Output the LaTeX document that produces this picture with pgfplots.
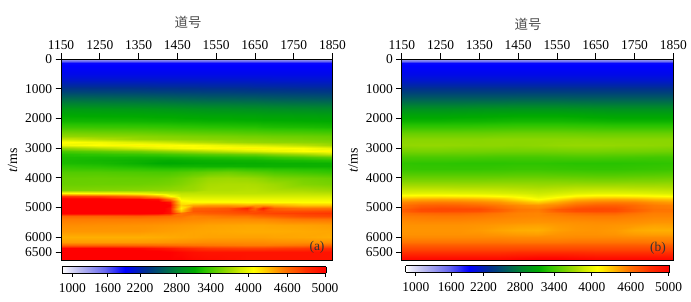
\documentclass[border=0pt]{standalone}
\usepackage{fontspec}
\setmainfont{Liberation Serif}
\newfontfamily\cjk{Noto Sans CJK SC}
\usepackage{pgfplots}
\usepackage{pgfplotstable}
\pgfplotsset{compat=1.18}
\pgfplotsset{
  colormap={seis}{rgb255(830)=(255,255,255) rgb255(1130)=(190,190,240) rgb255(1550)=(105,105,240)
   rgb255(1880)=(0,0,255) rgb255(2250)=(0,50,140) rgb255(2770)=(0,130,50) rgb255(3100)=(0,170,0)
   rgb255(3270)=(40,195,0) rgb255(3770)=(170,220,0) rgb255(4130)=(255,255,0) rgb255(4580)=(255,135,0)
   rgb255(4840)=(255,60,0) rgb255(5000)=(255,0,0) rgb255(5100)=(255,0,0)},
  colormap name=seis,
  point meta min=830, point meta max=5100,
  basepanel/.style={
    view={0}{90},
    scale only axis, width=271.5bp, height=201.7bp,
    xmin=1150,xmax=1850,ymin=0,ymax=6790,y dir=reverse,
    xtick={1150,1250,...,1850},ytick={0,1000,2000,3000,4000,5000,6000,6500},
    xticklabels={1150,1250,1350,1450,1550,1650,1750,1850},
    yticklabels={0,1000,2000,3000,4000,5000,6000,6500},
    xtick pos=upper,xticklabel pos=upper,ytick pos=left,tick align=outside,
    major tick length=5.5bp,
    every tick/.style={black,line width=0.8pt},
    axis line style={line width=0.8pt},
    tick label style={font=\fontsize{13.5}{15}\selectfont},
    axis on top, clip=true,
  },
  basebar/.style={
    view={0}{90},
    scale only axis,width=263.7bp,height=6.6bp,
    xmin=62.3,xmax=326,ymin=0,ymax=1,
    xtick={72.3,107.7,140,176.7,210.7,248.3,287.3,325},
    xticklabels={1000,1600,2200,2800,3400,4000,4600,5000},
    ytick=\empty,xtick pos=lower,tick align=outside,major tick length=3.5bp,
    every tick/.style={black,line width=0.7pt},
    axis line style={line width=0.9pt},
    tick label style={font=\fontsize{13.5}{15}\selectfont},
    xticklabel style={yshift=-3bp},
    axis on top,
  },
}
\newcommand\buildmesh[3]{%
  \gdef#1{}%
  \pgfplotstablegetrowsof{#2}\edef\nrows{\pgfplotsretval}%
  \pgfmathtruncatemacro\lastrow{\nrows-1}%
  \foreach \rr in {0,...,\lastrow}{%
    \pgfplotstablegetelem{\rr}{[index]0}\of{#2}\edef\yy{\pgfplotsretval}%
    \foreach \xx [count=\cc] in #3{%
      \pgfplotstablegetelem{\rr}{[index]\cc}\of{#2}%
      \xdef#1{#1 (\xx,\yy,\pgfplotsretval)}%
    }%
  }%
}
\pgfplotstableread{
t a b c d e f g h i j k l m n o
0 1250 1250 1250 1250 1250 1250 1250 1250 1250 1250 1250 1250 1250 1250 1250
60 1550 1550 1550 1550 1550 1550 1550 1550 1550 1550 1550 1550 1550 1550 1550
150 1860 1860 1860 1860 1860 1860 1860 1860 1860 1860 1860 1860 1860 1860 1860
300 1900 1900 1900 1900 1900 1900 1900 1900 1900 1900 1900 1900 1900 1900 1900
500 1950 1950 1950 1950 1950 1950 1950 1950 1950 1950 1950 1950 1950 1950 1950
700 2050 2050 2050 2050 2050 2050 2050 2050 2050 2050 2050 2050 2040 2040 2040
900 2200 2200 2200 2190 2190 2190 2190 2180 2180 2180 2170 2170 2170 2160 2160
1100 2380 2375 2370 2360 2360 2350 2350 2340 2340 2330 2330 2320 2320 2310 2300
1300 2600 2590 2580 2570 2560 2550 2540 2530 2530 2520 2520 2510 2500 2490 2480
1500 2800 2790 2780 2770 2760 2750 2740 2730 2730 2720 2720 2710 2700 2690 2680
1700 2980 2970 2960 2950 2940 2930 2920 2910 2900 2890 2890 2880 2870 2860 2850
1900 3090 3085 3080 3070 3070 3060 3050 3040 3040 3030 3030 3020 3020 3010 3000
2100 3180 3175 3170 3160 3160 3150 3150 3140 3140 3130 3130 3120 3120 3110 3100
2300 3350 3340 3330 3320 3310 3300 3290 3280 3270 3260 3260 3240 3230 3220 3200
2500 3580 3560 3540 3520 3510 3500 3490 3480 3470 3450 3450 3440 3430 3420 3400
2600 3680 3660 3640 3620 3610 3600 3590 3580 3570 3550 3550 3540 3530 3520 3500
2700 3900 3800 3700 3680 3670 3660 3650 3640 3630 3620 3620 3610 3600 3580 3550
2800 4150 4080 3980 3930 3900 3860 3820 3790 3730 3700 3690 3680 3670 3660 3630
2900 4060 4140 4170 4160 4150 4130 4120 4080 4030 3980 3970 3950 3920 3840 3730
3000 3670 3810 3950 4020 4060 4090 4120 4140 4160 4170 4170 4165 4150 4120 4030
3100 3400 3480 3550 3630 3670 3710 3750 3810 3880 3950 3970 4000 4040 4120 4160
3200 3260 3300 3330 3350 3380 3400 3430 3460 3490 3530 3540 3580 3630 3730 3880
3300 3220 3210 3200 3200 3210 3220 3230 3250 3260 3280 3280 3300 3340 3400 3480
3400 3210 3180 3150 3130 3120 3130 3140 3150 3160 3170 3170 3180 3190 3220 3260
3500 3220 3200 3140 3100 3090 3100 3110 3120 3120 3130 3130 3130 3140 3140 3150
3600 3290 3260 3210 3180 3170 3170 3170 3160 3160 3150 3150 3150 3150 3150 3150
3800 3430 3430 3410 3400 3400 3430 3460 3500 3530 3480 3460 3440 3400 3360 3320
4000 3500 3510 3500 3500 3520 3560 3620 3700 3720 3700 3680 3650 3600 3560 3520
4200 3520 3530 3540 3560 3580 3620 3680 3760 3780 3780 3770 3750 3720 3620 3580
4400 3600 3620 3640 3660 3680 3700 3720 3800 3800 3820 3820 3800 3780 3760 3720
4500 4150 4100 4050 3950 3900 3850 3850 3850 3850 3850 3850 3850 3850 3850 3830
4600 4850 4800 4650 4450 4150 3950 3950 3950 3950 3950 3950 3950 3950 3950 3950
4700 5050 5050 5000 4950 4650 4080 4050 4050 4050 4050 4050 4050 4050 4050 4050
4800 5050 5050 5050 5050 4950 4200 4150 4150 4150 4130 4130 4130 4130 4130 4130
4900 5050 5050 5050 5050 5000 4300 4450 4500 4500 4450 4500 4500 4450 4350 4350
5000 5050 5050 5050 5050 4950 4180 4700 4720 4750 4900 4700 4920 4720 4650 4650
5100 5050 5050 5050 5050 4950 4350 4750 4760 4780 4830 4780 4830 4780 4780 4800
5200 5050 5050 5050 5020 4950 4650 4700 4730 4750 4780 4800 4800 4820 4840 4860
5300 4700 4700 4720 4700 4680 4650 4600 4620 4650 4650 4680 4700 4720 4780 4800
5400 4620 4620 4620 4620 4610 4600 4580 4570 4570 4570 4580 4580 4600 4640 4650
5600 4560 4550 4540 4530 4520 4510 4500 4480 4470 4460 4460 4460 4470 4480 4500
5800 4520 4520 4520 4500 4490 4480 4470 4460 4450 4440 4440 4440 4440 4450 4460
6000 4430 4430 4430 4440 4450 4460 4470 4480 4480 4480 4480 4480 4470 4460 4440
6150 4500 4500 4510 4520 4530 4540 4550 4560 4560 4560 4560 4560 4550 4550 4550
6250 4700 4700 4690 4680 4670 4660 4650 4640 4630 4620 4620 4620 4630 4650 4700
6350 5000 5000 4980 4950 4930 4900 4880 4850 4840 4830 4830 4830 4840 4850 4880
6500 5040 5040 5030 5020 5000 4980 4960 4950 4950 4950 4950 4950 4950 4950 4950
6790 5020 5020 5020 5010 5000 5000 4980 4970 4960 4950 4950 4950 4950 4950 4950
}\tableA
\pgfplotstableread{
t a b c d e f g h i j k l m n o
0 1250 1250 1250 1250 1250 1250 1250 1250 1250 1250 1250 1250 1250 1250 1250
60 1500 1500 1500 1500 1500 1500 1500 1500 1500 1500 1500 1500 1500 1500 1500
150 1860 1860 1860 1860 1860 1860 1860 1860 1860 1860 1860 1860 1860 1860 1860
300 1900 1900 1900 1900 1900 1900 1900 1900 1900 1900 1900 1900 1900 1900 1900
500 1950 1950 1950 1950 1950 1950 1950 1950 1950 1950 1950 1950 1950 1950 1950
700 2040 2040 2040 2040 2040 2040 2040 2040 2040 2040 2040 2040 2040 2040 2040
900 2180 2180 2180 2180 2180 2180 2180 2180 2180 2180 2180 2180 2180 2180 2180
1100 2340 2340 2340 2340 2340 2340 2340 2340 2340 2340 2340 2340 2340 2340 2340
1300 2520 2520 2520 2520 2520 2520 2530 2530 2530 2520 2520 2520 2520 2520 2520
1500 2720 2720 2720 2720 2730 2730 2740 2740 2740 2730 2720 2720 2720 2720 2720
1700 2900 2900 2900 2910 2920 2930 2930 2930 2930 2920 2910 2900 2900 2900 2900
1900 3050 3050 3050 3060 3070 3080 3090 3090 3090 3080 3060 3050 3050 3050 3050
2100 3160 3160 3160 3170 3170 3180 3190 3190 3190 3180 3170 3160 3160 3160 3160
2300 3320 3320 3320 3320 3330 3340 3350 3350 3350 3340 3330 3320 3320 3320 3320
2500 3510 3510 3510 3510 3510 3520 3530 3530 3530 3520 3510 3510 3510 3510 3510
2700 3640 3640 3640 3640 3640 3650 3650 3650 3650 3650 3640 3640 3640 3640 3640
2900 3670 3680 3680 3670 3660 3660 3650 3660 3680 3690 3690 3680 3670 3660 3650
3100 3560 3570 3570 3560 3560 3550 3550 3550 3560 3570 3570 3560 3560 3550 3540
3300 3400 3400 3400 3400 3390 3380 3380 3380 3390 3400 3400 3390 3380 3370 3370
3500 3300 3290 3290 3280 3280 3280 3290 3290 3280 3270 3270 3270 3280 3290 3300
3700 3330 3320 3320 3320 3320 3330 3340 3340 3330 3320 3310 3310 3320 3330 3340
3900 3460 3460 3460 3460 3460 3460 3470 3470 3460 3450 3440 3440 3450 3460 3470
4100 3610 3610 3610 3610 3610 3620 3620 3620 3620 3610 3600 3600 3610 3610 3620
4300 3800 3800 3800 3790 3790 3790 3780 3760 3780 3800 3800 3800 3790 3790 3780
4400 3900 3900 3900 3890 3890 3880 3860 3840 3860 3890 3900 3900 3890 3880 3870
4500 4000 4010 4010 4000 3990 3970 3950 3910 3950 3990 4010 4010 4000 3980 3960
4600 4180 4200 4200 4180 4170 4130 4080 4000 4070 4160 4200 4200 4180 4150 4120
4700 4420 4450 4460 4450 4420 4370 4240 4110 4250 4400 4450 4460 4440 4380 4350
4800 4580 4610 4620 4610 4580 4530 4430 4320 4450 4570 4610 4620 4600 4540 4500
4900 4660 4710 4720 4710 4680 4630 4570 4530 4590 4680 4720 4720 4680 4620 4600
5000 4690 4770 4790 4780 4770 4690 4620 4590 4690 4770 4790 4780 4700 4640 4620
5050 4720 4790 4800 4800 4790 4720 4640 4620 4740 4790 4800 4790 4720 4650 4640
5100 4710 4780 4790 4780 4770 4710 4630 4610 4720 4780 4790 4780 4710 4640 4640
5200 4660 4690 4700 4700 4680 4640 4600 4590 4640 4680 4700 4700 4650 4610 4610
5300 4620 4630 4640 4640 4630 4610 4590 4580 4600 4620 4630 4630 4610 4590 4590
5500 4560 4570 4570 4570 4560 4550 4540 4530 4540 4550 4560 4560 4550 4530 4530
5600 4540 4540 4540 4540 4530 4510 4490 4480 4510 4530 4540 4530 4510 4480 4490
5750 4530 4530 4530 4530 4510 4470 4440 4430 4490 4520 4530 4510 4450 4430 4430
5900 4540 4540 4540 4540 4540 4520 4500 4490 4530 4540 4540 4530 4500 4490 4490
6000 4570 4570 4570 4570 4570 4570 4560 4560 4560 4570 4570 4570 4560 4560 4560
6150 4650 4650 4650 4650 4650 4650 4640 4640 4640 4650 4650 4650 4650 4640 4640
6250 4730 4730 4730 4730 4730 4730 4730 4730 4730 4730 4730 4730 4730 4730 4730
6350 4790 4790 4790 4790 4790 4790 4790 4790 4790 4790 4790 4790 4790 4790 4790
6500 4870 4870 4870 4870 4870 4870 4880 4880 4880 4880 4870 4870 4870 4870 4870
6650 4950 4950 4950 4950 4950 4950 4960 4970 4970 4960 4950 4950 4950 4950 4950
6790 5000 5000 5000 5000 5000 5000 5020 5030 5030 5020 5000 5000 5000 5000 5000
}\tableB
\pgfplotstableread{
y a b c d e f g h i j k l m n o p q r s t u v w x aa ab ac ad ae af ag ah ai aj ak al am an ao ap aq ar as at
0 830 950 1050 1150 1230 1340 1440 1540 1640 1720 1810 1880 1960 2050 2140 2220 2300 2390 2480 2570 2660 2750 2840 2930 3020 3110 3200 3290 3380 3470 3560 3650 3740 3830 3930 4020 4110 4200 4300 4400 4540 4660 4870 5000
1 830 950 1050 1150 1230 1340 1440 1540 1640 1720 1810 1880 1960 2050 2140 2220 2300 2390 2480 2570 2660 2750 2840 2930 3020 3110 3200 3290 3380 3470 3560 3650 3740 3830 3930 4020 4110 4200 4300 4400 4540 4660 4870 5000
}\tableC
\def\xcolsA{1150,1250,1350,1400,1430,1460,1490,1530,1580,1630,1650,1670,1700,1775,1850}
\def\xcolsB{1150,1200,1250,1300,1350,1400,1450,1500,1550,1600,1650,1700,1750,1800,1850}
\def\xcolsC{62.3,68,74,80,85,92,98,104,110,115,120,125,130,135,140,145,150,155,160,165,170,175,180,185,190,195,200,205,210,215,220,225,230,235,240,246,252,258,264,270,278,286,305,326}
\buildmesh\meshA\tableA\xcolsA
\buildmesh\meshB\tableB\xcolsB
\buildmesh\meshC\tableC\xcolsC
\newcommand\surfplot[3]{%
  \edef\tmp{\noexpand\addplot3[surf,shader=interp,mesh/cols=#2,mesh/rows=#3] coordinates {#1};}\tmp}
\begin{document}
\begin{tikzpicture}[x=1bp,y=1bp]
\path[use as bounding box] (0,0) rectangle (691,301);
\begin{axis}[basepanel,at={(61bp,40.3bp)},anchor=south west]
\surfplot{\meshA}{15}{48}
\end{axis}
\begin{axis}[basepanel,at={(401.8bp,40.3bp)},anchor=south west]
\surfplot{\meshB}{15}{46}
\end{axis}
\begin{axis}[basebar,at={(62.3bp,27.7bp)},anchor=south west]
\surfplot{\meshC}{44}{2}
\end{axis}
\begin{axis}[basebar,at={(405.8bp,28.7bp)},anchor=south west]
\surfplot{\meshC}{44}{2}
\end{axis}
\node[font=\fontsize{13.5}{15}\selectfont,text=black!80] at (317,53.5) {(a)};
\node[font=\fontsize{13.5}{15}\selectfont,text=black!80] at (658,53) {(b)};
\node[font=\cjk\fontsize{13.5}{15}\selectfont,text=black!70] at (188,279) {道号};
\node[font=\cjk\fontsize{13.5}{15}\selectfont,text=black!70] at (528,276.7) {道号};
\node[rotate=90,font=\fontsize{14}{15}\selectfont] at (12.5,141) {\textit{t}/ms};
\node[rotate=90,font=\fontsize{14}{15}\selectfont] at (353,141) {\textit{t}/ms};
\end{tikzpicture}
\end{document}
